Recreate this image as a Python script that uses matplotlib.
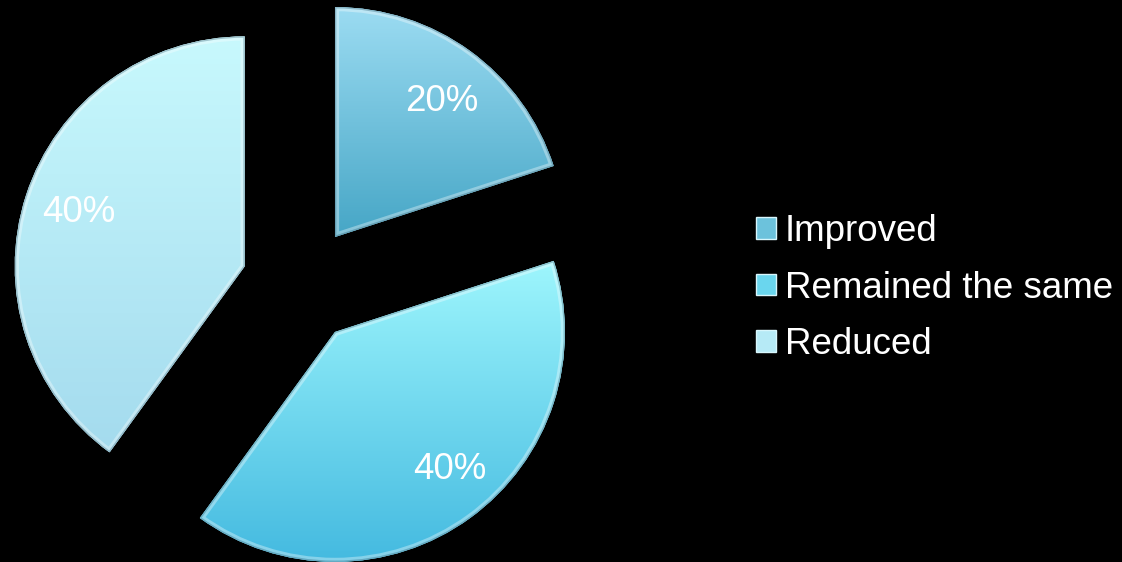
import numpy as np
import matplotlib.pyplot as plt
from matplotlib.colors import LinearSegmentedColormap, to_rgb
from matplotlib.patches import Wedge

# Survey outcome shares
categories = ["Improved", "Remained the same", "Reduced"]
shares = [20, 40, 40]

# Vertical gradient per slice (top -> bottom)
top_colors = ["#9cdcf2", "#9ef6fd", "#c8f9fd"]
bottom_colors = ["#46a6c6", "#44bae0", "#a4dbee"]
mid_colors = ["#6cc2dc", "#6ad6ee", "#b6eaf6"]

W, H = 1122, 562
R = 230
fig = plt.figure(figsize=(W / 100, H / 100), dpi=100, facecolor="black")
ax = fig.add_axes([0, 0, 1, 1])
ax.set_facecolor("black")
ax.set_xlim(0, W)
ax.set_ylim(0, H)

wedges, texts, autotexts = ax.pie(
    shares,
    startangle=90,
    counterclock=False,
    radius=R,
    center=(300.5, H - 284.5),
    explode=[0.255 * R] * len(shares),
    colors=mid_colors,
    autopct="%d%%",
    pctdistance=0.76,
    textprops=dict(color="white", fontsize=26.5, family="Liberation Sans"),
    wedgeprops=dict(linewidth=0),
)

# Fill each slice with a vertical gradient and an inner bevel rim
for w, c_top, c_bot in zip(wedges, top_colors, bottom_colors):
    verts = w.get_patch_transform().transform(w.get_path().vertices)
    xmin, ymin = verts.min(axis=0)
    xmax, ymax = verts.max(axis=0)
    cmap = LinearSegmentedColormap.from_list("g", [to_rgb(c_bot), to_rgb(c_top)])
    grad = np.linspace(0, 1, 256).reshape(-1, 1)
    im = ax.imshow(grad, cmap=cmap, origin="lower", aspect="auto",
                   extent=[xmin, xmax, ymin, ymax], zorder=1.1,
                   interpolation="bicubic")
    im.set_clip_path(w)

    rim = Wedge(w.center, w.r, w.theta1, w.theta2, facecolor="none",
                edgecolor="white", linewidth=6, alpha=0.35, zorder=1.2)
    ax.add_patch(rim)
    rim.set_clip_path(w)
    shade = Wedge(w.center, w.r, w.theta1, w.theta2, facecolor="none",
                  edgecolor="#1a4a60", linewidth=2, alpha=0.3, zorder=1.3)
    ax.add_patch(shade)
    shade.set_clip_path(w)

# Small label nudges (Improved, Remained the same, Reduced)
label_nudges = [(4, -6), (12, 4), (0, 0)]
for t, (dx, dy) in zip(autotexts, label_nudges):
    x, y = t.get_position()
    t.set_position((x + dx, y + dy))
    t.set_zorder(5)

leg = ax.legend(
    wedges, categories,
    loc="center left",
    bbox_to_anchor=(756 / W, 1 - 288 / H),
    bbox_transform=fig.transFigure,
    frameon=False,
    prop=dict(family="Liberation Sans", size=26.5),
    handlelength=0.54,
    handleheight=0.54,
    handletextpad=0.24,
    labelspacing=0.58,
    borderpad=0,
    borderaxespad=0,
)
for txt in leg.get_texts():
    txt.set_color("white")
for h in leg.legend_handles:
    h.set_edgecolor("#d8f6fc")
    h.set_linewidth(1)

ax.set_xlim(0, W)
ax.set_ylim(0, H)
ax.set_aspect("equal")
ax.axis("off")

fig.savefig("out.png", dpi=100, facecolor="black")
